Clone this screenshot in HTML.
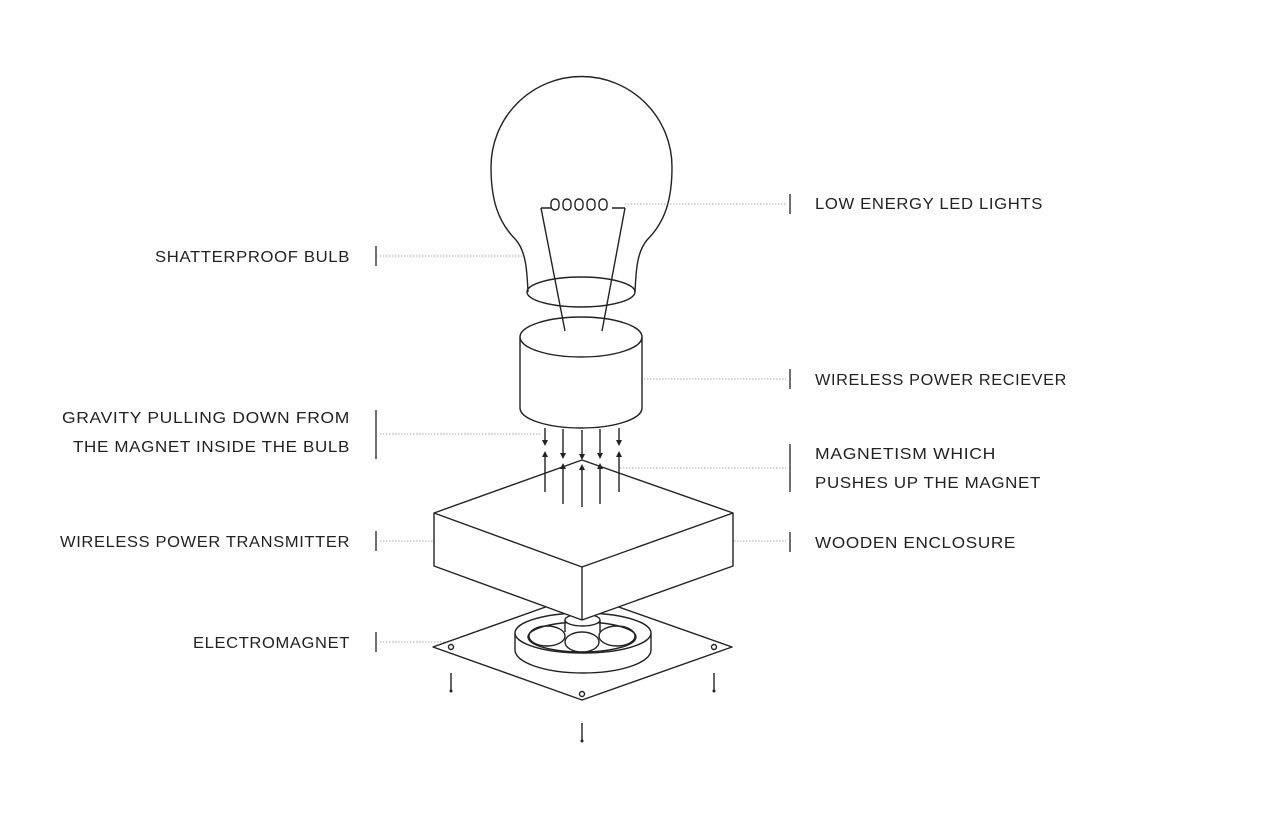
<!DOCTYPE html>
<html><head><meta charset="utf-8"><style>
html,body{margin:0;padding:0;background:#fff;}
svg{display:block}
text{font-family:"Liberation Sans",sans-serif;font-size:15.5px;fill:#222;letter-spacing:0.6px}
</style></head><body>
<svg width="1270" height="840" viewBox="0 0 1270 840" xmlns="http://www.w3.org/2000/svg">
<g fill="none" stroke="#aaa" stroke-width="1" stroke-dasharray="1.5,1.5">
<line x1="625" y1="204" x2="786" y2="204"/>
<line x1="380" y1="256" x2="523" y2="256"/>
<line x1="644" y1="379" x2="786" y2="379"/>
<line x1="380" y1="434" x2="541" y2="434"/>
<line x1="620" y1="468" x2="786" y2="468"/>
<line x1="380" y1="541" x2="433" y2="541"/>
<line x1="734" y1="541" x2="786" y2="541"/>
<line x1="380" y1="642" x2="513" y2="642"/>
</g>
<g stroke="#222" stroke-width="1.3">
<line x1="790" y1="194" x2="790" y2="214"/>
<line x1="376" y1="246" x2="376" y2="266"/>
<line x1="790" y1="369" x2="790" y2="389"/>
<line x1="376" y1="410" x2="376" y2="459"/>
<line x1="790" y1="444" x2="790" y2="492"/>
<line x1="376" y1="531" x2="376" y2="551"/>
<line x1="790" y1="532" x2="790" y2="552"/>
<line x1="376" y1="632" x2="376" y2="652"/>
</g>
<g fill="none" stroke="#222" stroke-width="1.4" stroke-linejoin="round">
<path d="M528 292 C527 270 526 252 516 240 C498 222 491 200 491 167 A90 90 0 0 1 672 167 C672 200 665 222 647 240 C637 252 636 270 635 292"/>
<ellipse cx="581" cy="292" rx="54" ry="15"/>
<path d="M541 208 L565 331 M625 208 L602 331"/>
<path d="M541 208 L551 208 M612 208 L625 208"/>
<rect x="551" y="199" width="8" height="11" rx="4"/>
<rect x="563" y="199" width="8" height="11" rx="4"/>
<rect x="575" y="199" width="8" height="11" rx="4"/>
<rect x="587" y="199" width="8" height="11" rx="4"/>
<rect x="599" y="199" width="8" height="11" rx="4"/>
<ellipse cx="581" cy="337" rx="61" ry="20"/>
<path d="M520 337 L520 408 A61 20 0 0 0 642 408 L642 337"/>
<path d="M582 594 L433 647 L582 700 L732 647 Z" fill="#fff"/>
<circle cx="451" cy="647" r="2.5"/><circle cx="714" cy="647" r="2.5"/><circle cx="582" cy="694" r="2.5"/>
<path d="M515 633 V650 A68 23 0 0 0 651 650 V633" fill="#fff"/>
<ellipse cx="583" cy="633" rx="68" ry="20" fill="#fff"/>
<ellipse cx="582" cy="637" rx="54" ry="15"/>
<ellipse cx="547" cy="636" rx="18" ry="10"/>
<ellipse cx="617" cy="636" rx="18" ry="10"/>
<path d="M565 620 V632 M600 620 V632"/>
<ellipse cx="582.5" cy="620" rx="17.5" ry="6" fill="#fff"/>
<ellipse cx="582" cy="642" rx="17" ry="10" fill="#fff"/>
<path d="M582 460 L434 513 V566 L582 620 L733 566 V513 Z" fill="#fff"/>
<path d="M434 513 L582 567 L733 513 M582 567 V620"/>
<path d="M451 673 V691 M714 673 V691 M582 723 V741"/>
<path d="M545 428 V442 M563 429 V455 M582 430 V456 M600 429 V455 M619 428 V442"/>
<path d="M545 492 V456 M563 504 V468 M582 507 V469 M600 504 V468 M619 492 V456"/>
</g>
<g fill="#222">
<path d="M542 440 L548 440 L545 446 Z M560 453 L566 453 L563 459 Z M579 454 L585 454 L582 460 Z M597 453 L603 453 L600 459 Z M616 440 L622 440 L619 446 Z"/>
<path d="M542 457 L548 457 L545 451 Z M560 469 L566 469 L563 463 Z M579 470 L585 470 L582 464 Z M597 469 L603 469 L600 463 Z M616 457 L622 457 L619 451 Z"/>
<circle cx="451" cy="691" r="1.5"/><circle cx="714" cy="691" r="1.5"/><circle cx="582" cy="741" r="1.5"/>
</g>
<g>
<text x="815" y="209" textLength="228" lengthAdjust="spacingAndGlyphs">LOW ENERGY LED LIGHTS</text>
<text x="350" y="262" text-anchor="end" textLength="195" lengthAdjust="spacingAndGlyphs">SHATTERPROOF BULB</text>
<text x="815" y="385" textLength="252" lengthAdjust="spacingAndGlyphs">WIRELESS POWER RECIEVER</text>
<text x="350" y="423" text-anchor="end" textLength="288" lengthAdjust="spacingAndGlyphs">GRAVITY PULLING DOWN FROM</text>
<text x="350" y="452" text-anchor="end" textLength="277" lengthAdjust="spacingAndGlyphs">THE MAGNET INSIDE THE BULB</text>
<text x="815" y="459" textLength="181" lengthAdjust="spacingAndGlyphs">MAGNETISM WHICH</text>
<text x="815" y="488" textLength="226" lengthAdjust="spacingAndGlyphs">PUSHES UP THE MAGNET</text>
<text x="350" y="547" text-anchor="end" textLength="290" lengthAdjust="spacingAndGlyphs">WIRELESS POWER TRANSMITTER</text>
<text x="815" y="548" textLength="201" lengthAdjust="spacingAndGlyphs">WOODEN ENCLOSURE</text>
<text x="350" y="648" text-anchor="end" textLength="157" lengthAdjust="spacingAndGlyphs">ELECTROMAGNET</text>
</g>
</svg>
</body></html>
